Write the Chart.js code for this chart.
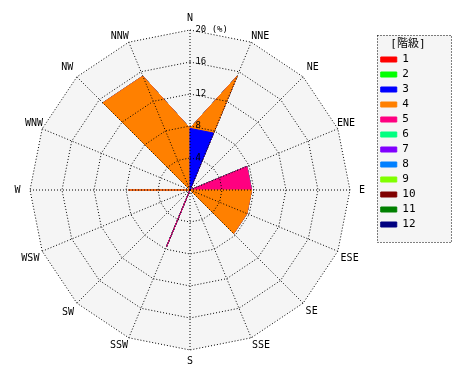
<!DOCTYPE html>
<html>
<head>
<meta charset="utf-8">
<script src="https://cdn.jsdelivr.net/npm/chart.js@4.4.1/dist/chart.umd.min.js"></script>
<style>
  html, body { margin: 0; padding: 0; background: #fff; }
  #wrap { width: 470px; height: 380px; }
</style>
</head>
<body>
<div id="wrap"><canvas id="chart1"></canvas></div>
<script>
const directions = ["N", "NNE", "NE", "ENE", "E", "ESE", "SE", "SSE", "S", "SSW", "SW", "WSW", "W", "WNW", "NW", "NNW"];
const classLabels = ["1", "2", "3", "4", "5", "6", "7", "8", "9", "10", "11", "12"];

// frequency (%) of each class, per direction (N, NNE, ... NNW)
const class1 = [0, 0, 0, 0, 0, 0, 0, 0, 0, 0, 0, 0, 0, 0, 0, 0];
const class2 = [0, 0, 0, 0, 0, 0, 0, 0, 0, 0, 0, 0, 0, 0, 0, 0];
const class3 = [7.7, 7.7, 0, 0, 0, 0, 0, 0, 0, 0, 0, 0, 0, 0, 0, 0];
const class4 = [0, 7.7, 0, 0, 7.7, 7.7, 7.7, 0, 0, 0, 0, 0, 7.7, 0, 15.4, 15.4];
const class5 = [0, 0, 0, 7.7, 0, 0, 0, 0, 0, 7.7, 0, 0, 0, 0, 0, 0];
const class6 = [0, 0, 0, 0, 0, 0, 0, 0, 0, 0, 0, 0, 0, 0, 0, 0];
const class7 = [0, 0, 0, 0, 0, 0, 0, 0, 0, 0, 0, 0, 0, 0, 0, 0];
const class8 = [0, 0, 0, 0, 0, 0, 0, 0, 0, 0, 0, 0, 0, 0, 0, 0];
const class9 = [0, 0, 0, 0, 0, 0, 0, 0, 0, 0, 0, 0, 0, 0, 0, 0];
const class10 = [0, 0, 0, 0, 0, 0, 0, 0, 0, 0, 0, 0, 0, 0, 0, 0];
const class11 = [0, 0, 0, 0, 0, 0, 0, 0, 0, 0, 0, 0, 0, 0, 0, 0];
const class12 = [0, 0, 0, 0, 0, 0, 0, 0, 0, 0, 0, 0, 0, 0, 0, 0];

const rMax = 20;
const rStep = 4;

const classValues = [class1, class2, class3, class4, class5, class6, class7, class8, class9, class10, class11, class12];
const classColors = ["#ff0000", "#00ff00", "#0000ff", "#ff8000", "#ff0080", "#00ff80",
  "#8000ff", "#0080ff", "#80ff00", "#800000", "#008000", "#000080"];

// stacked: class k is drawn out to the sum of classes 1..k
const cumulative = classValues.map((_, k) =>
  directions.map((d, i) => classValues.slice(0, k + 1).reduce((s, arr) => s + arr[i], 0)));

// gap between the outer ring and each direction name
const labelGap = [1, -4.5, 0.5, -5.5, 4.5, -1.5, -1, -2.5, 1, -2.5, -0.5, -1.5, 5, -5.5, 0.5, -4.5];

const monoFont = "'DejaVu Sans Mono', 'Noto Sans CJK JP', monospace";
const bgGray = "#f5f5f5";

const backdrops = {
  id: "backdrops",
  beforeDraw(chart) {
    const { ctx, legend } = chart;
    const r = chart.scales.r;
    ctx.save();
    ctx.beginPath();
    directions.forEach((d, i) => {
      const p = r.getPointPosition(i, r.drawingArea);
      if (i === 0) ctx.moveTo(p.x, p.y); else ctx.lineTo(p.x, p.y);
    });
    ctx.closePath();
    ctx.fillStyle = bgGray;
    ctx.fill();

    const top = Math.round(legend.top + 22.5);
    const left = Math.round(legend.left);
    ctx.fillStyle = bgGray;
    ctx.fillRect(left, top, 74, 207);
    ctx.setLineDash([1, 2]);
    ctx.strokeStyle = "#000";
    ctx.lineWidth = 1;
    ctx.strokeRect(left + 0.5, top + 0.5, 74, 207);
    ctx.restore();
  }
};

const ctx1 = document.getElementById("chart1").getContext("2d");

const chart1 = new Chart(ctx1, {
  type: "radar",
  data: {
    labels: directions,
    datasets: classValues.map((vals, k) => ({
      label: classLabels[k],
      data: cumulative[k],
      backgroundColor: classColors[k],
      borderColor: classColors[k],
      borderWidth: 1,
      pointRadius: 0,
      pointHoverRadius: 0,
      fill: "origin",
      segment: {
        borderColor: (c) => (vals[c.p0DataIndex] > 0 || vals[c.p1DataIndex] > 0) ? classColors[k] : "rgba(0,0,0,0)",
      },
    })),
  },
  options: {
    responsive: true,
    maintainAspectRatio: false,
    animation: false,
    events: [],
    layout: { padding: { left: 4, right: 44.5, top: 12.5, bottom: 12.5 } },
    elements: { line: { tension: 0 } },
    scales: {
      r: {
        min: 0,
        max: rMax,
        grid: { color: "#000", lineWidth: 1, z: 1 },
        border: { dash: [1, 2] },
        angleLines: { color: "#000", lineWidth: 1, borderDash: [1, 2] },
        pointLabels: {
          color: "#000",
          font: { family: monoFont, size: 10 },
          padding: (c) => labelGap[c.index],
        },
        ticks: {
          stepSize: rStep,
          z: 1,
          showLabelBackdrop: false,
          backdropPadding: 0,
          color: "#000",
          font: { family: monoFont, size: 9 },
          callback: (v) => {
            const s = String(v);
            if (v === rMax) return " ".repeat(8) + s + " (%)";
            return " ".repeat(s.length + 2) + s;
          },
        },
      },
    },
    plugins: {
      tooltip: { enabled: false },
      legend: {
        position: "right",
        align: "start",
        title: {
          display: true,
          position: "end",
          text: "[階級]",
          color: "#000",
          font: { family: monoFont, size: 11, lineHeight: 1 },
          padding: { top: 26.5, bottom: 0 },
        },
        labels: {
          boxWidth: 16,
          boxHeight: 5,
          padding: 4,
          color: "#000",
          font: { family: monoFont, size: 11 },
        },
      },
    },
  },
  plugins: [backdrops],
});
</script>
</body>
</html>
